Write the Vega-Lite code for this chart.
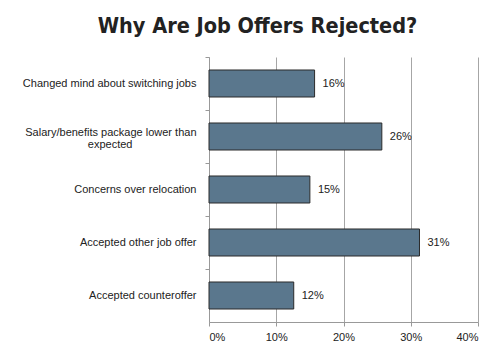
{
  "$schema": "https://vega.github.io/schema/vega-lite/v6.json",
  "autosize": "none",
  "width": 269,
  "height": 265,
  "padding": {"left": 209, "top": 57, "right": 23, "bottom": 36},
  "background": "white",
  "title": {
    "text": "Why Are Job Offers Rejected?",
    "font": "DejaVu Sans Condensed",
    "fontWeight": "bold",
    "fontSize": 21.5,
    "color": "#222222",
    "anchor": "middle",
    "frame": "group",
    "dx": -86,
    "offset": 19
  },
  "data": {
    "values": [
      {"reason": "Changed mind about switching jobs", "pct": 15.7, "label": "16%"},
      {"reason": "Salary/benefits package lower than|expected", "pct": 25.7, "label": "26%"},
      {"reason": "Concerns over relocation", "pct": 15.0, "label": "15%"},
      {"reason": "Accepted other job offer", "pct": 31.3, "label": "31%"},
      {"reason": "Accepted counteroffer", "pct": 12.6, "label": "12%"}
    ]
  },
  "config": {
    "view": {"stroke": null},
    "font": "Liberation Sans"
  },
  "encoding": {
    "y": {
      "field": "reason",
      "type": "nominal",
      "sort": null,
      "scale": {"paddingInner": 0, "paddingOuter": 0},
      "axis": {
        "title": null,
        "labelExpr": "split(replace(datum.label, '|expected', '|expected\u2800\u2800\u2800\u2800\u2800\u2800\u2800\u2800'), '|')",
        "labelFont": "Liberation Sans",
        "labelFontSize": 11,
        "labelColor": "#222222",
        "labelLineHeight": 12,
        "labelOffset": {"condition": {"test": "indexof(datum.value, '|') >= 0", "value": -4}, "value": 0},
        "labelLimit": 300,
        "bandPosition": 0,
        "tickSize": 4,
        "tickColor": "#999999",
        "domainColor": "#999999",
        "labelPadding": 9,
        "grid": false
      }
    }
  },
  "layer": [
    {
      "mark": {"type": "bar", "height": {"band": 0.51}, "color": "#5a778d", "stroke": "#2b2b2b", "strokeWidth": 1},
      "encoding": {
        "x": {
          "field": "pct",
          "type": "quantitative",
          "scale": {"domain": [0, 40]},
          "axis": {
            "title": null,
            "values": [0, 10, 20, 30, 40],
            "labelExpr": "datum.value + '%'",
            "labelFont": "Liberation Sans",
            "labelFontSize": 11,
            "labelColor": "#222222",
            "tickSize": 4,
            "tickColor": "#999999",
            "domainColor": "#999999",
            "gridColor": "#a6a6a6",
            "gridOpacity": 1,
            "labelPadding": 5
          }
        }
      }
    },
    {
      "mark": {"type": "text", "align": "left", "dx": 8, "fontSize": 11, "font": "Liberation Sans", "color": "#222222"},
      "encoding": {
        "x": {"field": "pct", "type": "quantitative"},
        "text": {"field": "label"}
      }
    }
  ]
}
